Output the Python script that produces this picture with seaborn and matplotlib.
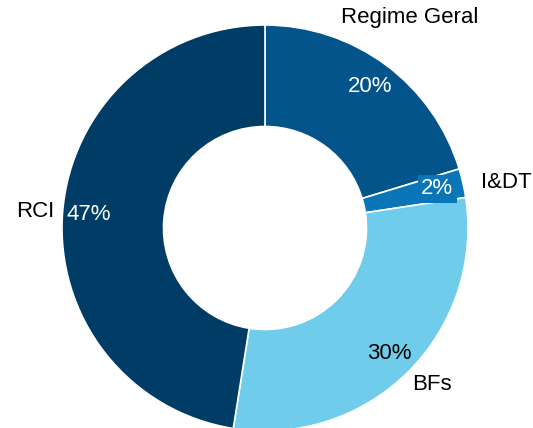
import numpy as np
import matplotlib
matplotlib.use("Agg")
import matplotlib.pyplot as plt
import seaborn as sns

# donut data (clockwise from 12 o'clock)
categories = ["Regime Geral", "I&DT", "BFs", "RCI"]
shares = [20.3, 2.3, 29.9, 47.5]
pct_labels = ["20%", "2%", "30%", "47%"]
colors = ["#04548C", "#0B76B7", "#70CCEB", "#003D66"]
pct_colors = ["white", "white", "black", "white"]
label_dist = [1.26, 1.21, 1.13, 1.135]
label_nudge = [2, -2, 2, 0.5]  # degrees, excel-style label placement

sns.set_theme(style="white")
plt.rcParams["font.family"] = ["Liberation Sans", "DejaVu Sans"]

fig = plt.figure(figsize=(5.33, 4.28), dpi=100)
ax = fig.add_axes([0, 0, 1, 1])

wedges, _ = ax.pie(shares, colors=colors, startangle=90, counterclock=False,
                   wedgeprops=dict(width=0.5, edgecolor="white", linewidth=1.2))

for w, cat, pct, pc, d, nd in zip(wedges, categories, pct_labels, pct_colors,
                                   label_dist, label_nudge):
    mid = (w.theta1 + w.theta2) / 2
    a = np.deg2rad(mid + nd)
    ax.text(d * np.cos(a), d * np.sin(a), cat, ha="center", va="center",
            fontsize=16, color="black")
    box = None
    if cat == "I&DT":
        box = dict(facecolor=w.get_facecolor(), edgecolor="none", pad=2.5)
    m = np.deg2rad(mid)
    ax.text(0.87 * np.cos(m), 0.87 * np.sin(m), pct, ha="center", va="center",
            fontsize=16, color=pc, bbox=box)

ax.set_aspect("auto")
ax.set_xlim(-265 / 203, 268 / 203)
ax.set_ylim(-200 / 203, 228 / 203)
ax.axis("off")

fig.savefig("out.png", dpi=100)
